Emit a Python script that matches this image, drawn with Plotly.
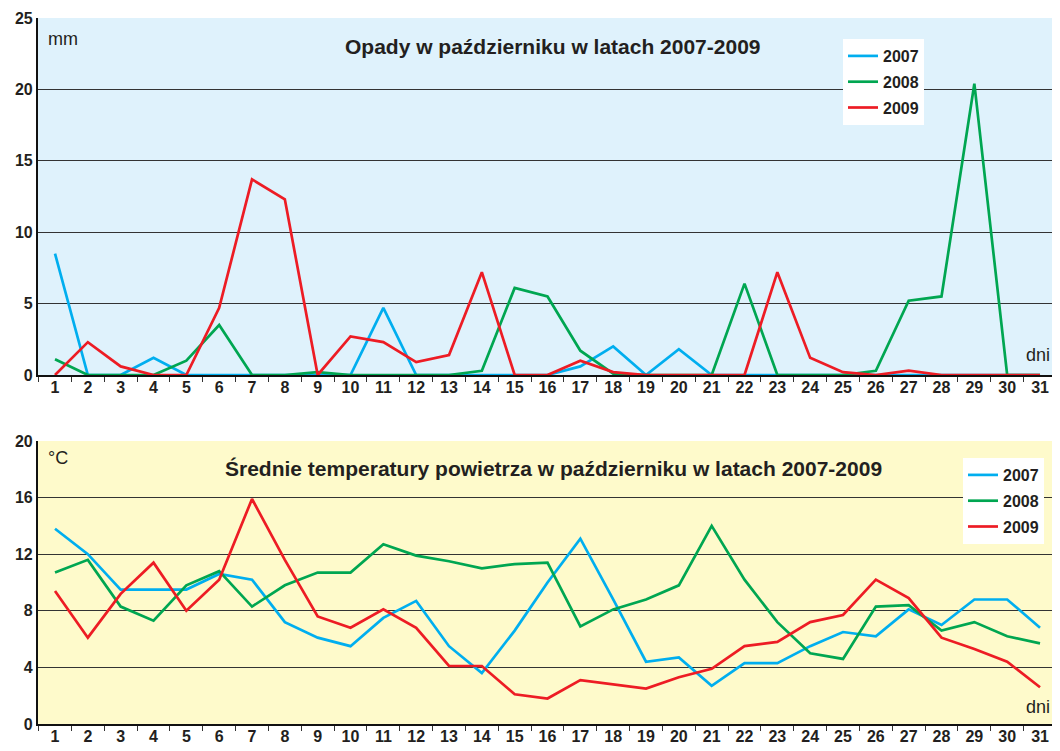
import plotly.graph_objects as go

days = list(range(1, 32))
years = ["2007", "2008", "2009"]
colors = ["#00aeef", "#00a651", "#ed1c24"]

rain_2007 = [8.5, 0, 0, 1.2, 0, 0, 0, 0, 0, 0, 4.7, 0, 0, 0, 0, 0, 0.6, 2.0, 0, 1.8, 0, 0, 0, 0, 0, 0, 0, 0, 0, 0, 0]
rain_2008 = [1.1, 0, 0, 0, 1.0, 3.5, 0, 0, 0.2, 0, 0, 0, 0, 0.3, 6.1, 5.5, 1.7, 0.1, 0, 0, 0, 6.4, 0, 0, 0, 0.3, 5.2, 5.5, 20.4, 0, 0]
rain_2009 = [0, 2.3, 0.6, 0, 0, 4.7, 13.7, 12.3, 0, 2.7, 2.3, 0.9, 1.4, 7.2, 0, 0, 1.0, 0.2, 0, 0, 0, 0, 7.2, 1.2, 0.2, 0, 0.3, 0, 0, 0, 0]

temp_2007 = [13.8, 12.0, 9.5, 9.5, 9.5, 10.6, 10.2, 7.2, 6.1, 5.5, 7.5, 8.7, 5.5, 3.6, 6.6, 10.0, 13.1, 8.8, 4.4, 4.7, 2.7, 4.3, 4.3, 5.5, 6.5, 6.2, 8.1, 7.0, 8.8, 8.8, 6.8]
temp_2008 = [10.7, 11.6, 8.3, 7.3, 9.8, 10.8, 8.3, 9.8, 10.7, 10.7, 12.7, 11.9, 11.5, 11.0, 11.3, 11.4, 6.9, 8.1, 8.8, 9.8, 14.0, 10.2, 7.2, 5.0, 4.6, 8.3, 8.4, 6.6, 7.2, 6.2, 5.7]
temp_2009 = [9.4, 6.1, 9.2, 11.4, 8.0, 10.2, 15.9, 11.6, 7.6, 6.8, 8.1, 6.8, 4.1, 4.1, 2.1, 1.8, 3.1, 2.8, 2.5, 3.3, 3.9, 5.5, 5.8, 7.2, 7.7, 10.2, 8.9, 6.1, 5.3, 4.4, 2.6]

rain_ticks = [0, 5, 10, 15, 20, 25]
temp_ticks = [0, 4, 8, 12, 16, 20]

title_rain = "Opady w październiku w latach 2007-2009"
title_temp = "Średnie temperatury powietrza w październiku w latach 2007-2009"

# the page body has an 8px margin: size the figure to the visible area
OFF = 8
W, H = 1052 - OFF, 751 - OFF
FONT = "Liberation Sans, Arial, sans-serif"
TXT = "#231f20"


def px(x):
    return (x - OFF) / W


def py(y):
    return 1 - (y - OFF) / H


fig = go.Figure()

for yr, col, vals in zip(years, colors, [rain_2007, rain_2008, rain_2009]):
    fig.add_trace(go.Scatter(x=days, y=vals, mode="lines", name=yr,
                             line=dict(color=col, width=2.7),
                             xaxis="x", yaxis="y", legend="legend",
                             legendgroup="r" + yr))
for yr, col, vals in zip(years, colors, [temp_2007, temp_2008, temp_2009]):
    fig.add_trace(go.Scatter(x=days, y=vals, mode="lines", name=yr,
                             line=dict(color=col, width=2.7),
                             xaxis="x2", yaxis="y2", legend="legend2",
                             legendgroup="t" + yr))

xcommon = dict(range=[0.482, 31.365], tickmode="array", tickvals=days,
               ticktext=[str(d) for d in days], ticks="", showgrid=False,
               zeroline=False, showline=True, linecolor="#111111", linewidth=1.5,
               automargin=False, ticklabelstandoff=-3,
               tickfont=dict(family=FONT, size=16, color=TXT, weight="bold"),
               minor=dict(tickmode="array", tickvals=[d + 0.5 for d in days[:-1]] + [0.5],
                          ticks="outside", ticklen=5, tickcolor="#333333", tickwidth=1,
                          showgrid=False),
               fixedrange=True)

ycommon = dict(showgrid=True, gridcolor="#333333", gridwidth=1.2, zeroline=False,
               showline=True, linecolor="#111111", linewidth=2.2, ticks="",
               automargin=False,
               tickfont=dict(family=FONT, size=16, color=TXT, weight="bold"),
               tickmode="array", fixedrange=True)

legfont = dict(family=FONT, size=16, color=TXT, weight="bold")


def ann(text, x, y, size, bold=False, xanchor="center"):
    f = dict(family=FONT, size=size, color=TXT)
    if bold:
        f["weight"] = "bold"
    return dict(text=text, xref="paper", yref="paper", x=x, y=y,
                xanchor=xanchor, yanchor="middle", showarrow=False, font=f)


fig.update_layout(
    width=W, height=H,
    margin=dict(l=0, r=0, t=0, b=0, pad=0, autoexpand=False),
    paper_bgcolor="white", plot_bgcolor="rgba(0,0,0,0)",
    font=dict(family=FONT, color=TXT),
    xaxis=dict(domain=[px(38), 1], anchor="y", **xcommon),
    yaxis=dict(domain=[py(375), py(18)], anchor="x", range=[0, 25], tickvals=rain_ticks, **ycommon),
    xaxis2=dict(domain=[px(38), 1], anchor="y2", **xcommon),
    yaxis2=dict(domain=[py(724), py(441)], anchor="x2", range=[0, 20], tickvals=temp_ticks, **ycommon),
    legend=dict(x=px(843), y=py(39), xanchor="left", yanchor="top",
                bgcolor="white", borderwidth=0, tracegroupgap=2,
                font=legfont, traceorder="grouped"),
    legend2=dict(x=px(963), y=py(458), xanchor="left", yanchor="top",
                 bgcolor="white", borderwidth=0, tracegroupgap=2,
                 font=legfont, traceorder="grouped"),
    shapes=[
        dict(type="rect", xref="x domain", yref="y domain", x0=0, x1=1, y0=0, y1=1,
             fillcolor="#dff2fc", line=dict(width=0), layer="below"),
        dict(type="rect", xref="x2 domain", yref="y2 domain", x0=0, x1=1, y0=0, y1=1,
             fillcolor="#fefacb", line=dict(width=0), layer="below"),
    ],
    annotations=[
        ann(title_rain, px(553), py(47), 21, bold=True),
        ann(title_temp, px(553), py(468), 21, bold=True),
        ann("mm", px(46), py(39), 18, xanchor="left"),
        ann("°C", px(46), py(458), 18, xanchor="left"),
        ann("dni", 1, py(355), 18, xanchor="right"),
        ann("dni", 1, py(707), 18, xanchor="right"),
    ],
)

fig.write_html("out.html")
